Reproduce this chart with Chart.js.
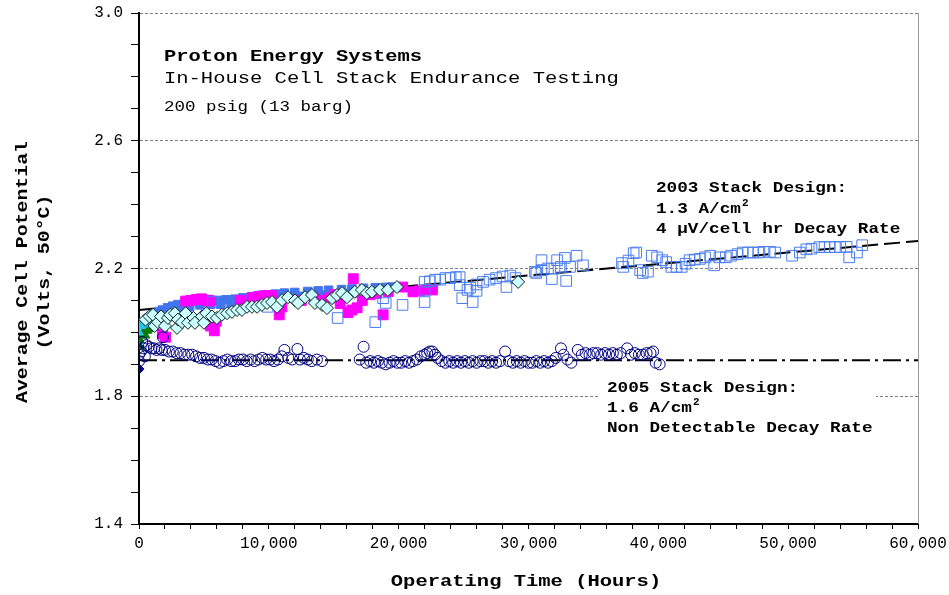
<!DOCTYPE html>
<html>
<head>
<meta charset="utf-8">
<script src="https://cdn.jsdelivr.net/npm/chart.js@4"></script>
<style>
  html, body { margin: 0; padding: 0; background: #fff; }
  canvas { display: block; }
</style>
</head>
<body>
<canvas id="endurance" width="949" height="595"></canvas>
<script>
/* ===== data: [operating hours, volts] ===== */
const stack2005 = [
  [0,1.93],[0,1.91],[150,1.94],[250,1.97],[350,1.95],[450,1.925],[550,1.96],[750,1.955],[950,1.95],
  [1150,1.95],[1350,1.945],[1550,1.95],[1750,1.945],[1850,1.985],[2000,1.945],[2300,1.94],[2600,1.94],
  [2900,1.935],[3200,1.935],[3500,1.93],[3800,1.93],[4100,1.93],[4400,1.925],[4700,1.92],[5000,1.92],
  [5300,1.915],[5600,1.915],[5900,1.91],[6200,1.905],[6500,1.91],[6800,1.915],[7100,1.91],[7400,1.91],
  [7700,1.915],[8000,1.915],[8300,1.91],[8600,1.915],[8900,1.91],[9200,1.915],[9500,1.92],[9800,1.915],
  [10100,1.915],[10400,1.91],[10700,1.915],[11000,1.925],[11200,1.945],[11500,1.92],[11800,1.915],
  [12200,1.948],[12400,1.915],[12700,1.92],[13000,1.915],[13300,1.91],[13700,1.915],[14100,1.91],
  [17000,1.915],[17300,1.955],[17500,1.905],[17800,1.91],[18100,1.905],[18400,1.91],[18700,1.905],
  [19000,1.9],[19300,1.905],[19600,1.91],[19900,1.905],[20200,1.905],[20500,1.91],[20800,1.905],
  [21100,1.91],[21400,1.915],[21700,1.925],[22000,1.93],[22200,1.935],[22400,1.94],[22600,1.94],
  [22800,1.93],[23000,1.92],[23300,1.91],[23600,1.905],[23900,1.91],[24200,1.905],[24500,1.91],
  [24800,1.905],[25100,1.91],[25400,1.905],[25700,1.91],[26000,1.905],[26300,1.91],[26600,1.91],
  [26900,1.905],[27200,1.91],[27500,1.905],[27800,1.91],[28200,1.94],[28500,1.91],[28800,1.905],
  [29100,1.91],[29400,1.905],[29700,1.91],[30000,1.905],[30300,1.905],[30600,1.91],[30900,1.905],
  [31200,1.91],[31500,1.905],[31800,1.91],[32100,1.92],[32500,1.95],[32700,1.93],[33000,1.915],
  [33300,1.905],[33800,1.945],[34100,1.93],[34400,1.935],[34700,1.93],[35000,1.935],[35300,1.935],
  [35600,1.93],[35900,1.935],[36200,1.93],[36500,1.935],[36800,1.93],[37100,1.935],[37600,1.95],
  [37900,1.93],[38200,1.935],[38500,1.93],[38800,1.93],[39100,1.935],[39400,1.935],[39600,1.94],
  [39800,1.905],[40100,1.9]
];

const stack2003 = [
  [5700,2.095],[9900,2.08],[15300,2.045],[18200,2.032],[18800,2.107],[19000,2.092],[20300,2.086],
  [22000,2.158],[22000,2.095],[22000,2.133],[22400,2.16],[22800,2.165],[23200,2.165],[23600,2.17],
  [24000,2.17],[24400,2.173],[24700,2.173],[24700,2.148],[24900,2.107],[25300,2.133],[25500,2.14],
  [25700,2.095],[26000,2.13],[26000,2.15],[26500,2.158],[27000,2.165],[27500,2.17],[28000,2.175],
  [28300,2.142],[28600,2.178],[29000,2.17],[30500,2.19],[30600,2.186],[31000,2.195],[31000,2.226],
  [31500,2.2],[31800,2.167],[32000,2.2],[32200,2.226],[32500,2.205],[32800,2.233],[32900,2.161],
  [33200,2.205],[33700,2.24],[34200,2.21],[37200,2.217],[37300,2.205],[37700,2.225],[38100,2.248],
  [38300,2.25],[38600,2.195],[38800,2.186],[39200,2.19],[39500,2.24],[39900,2.235],[40300,2.226],
  [40600,2.22],[41000,2.205],[41400,2.205],[41800,2.205],[42100,2.215],[42400,2.226],[42800,2.228],
  [43200,2.23],[43600,2.235],[44000,2.24],[44300,2.21],[44700,2.235],[45200,2.235],[45600,2.24],
  [46100,2.245],[46500,2.25],[46900,2.25],[47300,2.25],[47700,2.25],[48100,2.252],[48600,2.252],
  [49000,2.25],[50300,2.24],[50900,2.25],[51400,2.26],[51800,2.262],[52400,2.267],[52800,2.267],
  [53200,2.267],[53600,2.267],[54000,2.267],[54500,2.268],[54700,2.235],[55300,2.25],[55700,2.273]
];

const stack2003Early = [
  [300,2.03],[600,2.04],[900,2.05],[1200,2.058],[1500,2.064],[1800,2.07],[2200,2.077],[2600,2.082],
  [3000,2.087],[3500,2.092],[4000,2.098],[4500,2.102],[4900,2.105],[5400,2.103],[6100,2.1],[6700,2.102],
  [7400,2.104],[8000,2.108],[8700,2.112],[9400,2.116],[10000,2.118],[10500,2.12],[11200,2.123],
  [12000,2.125],[13000,2.128],[13800,2.13],[14600,2.132],[15600,2.134],[16400,2.136],[17300,2.138],
  [18200,2.14],[19000,2.141],[19500,2.142],
  [700,2.03],[1500,2.048],[2300,2.06],[3100,2.07],[3900,2.08],[4700,2.086],[5500,2.088],[6300,2.088],
  [7100,2.09],[7900,2.094],[8700,2.098],[9500,2.102],[10300,2.106],[11100,2.108],[11900,2.11],[12700,2.113],
  [13500,2.115],[14300,2.117],[15100,2.12],[15900,2.122],[16700,2.124],[17500,2.126],[18300,2.128],
  [19100,2.13]
];

const stackMagenta = [
  [1800,1.995],[2050,1.985],[3600,2.098],[4000,2.1],[4400,2.103],[4800,2.105],[5200,2.1],[5500,2.098],
  [5200,2.035],[5500,2.02],[5800,2.005],[5950,2.035],[7800,2.1],[8700,2.108],
  [9200,2.112],[9700,2.115],[10200,2.115],[10800,2.055],[11000,2.08],[12500,2.1],[13500,2.105],
  [14100,2.1],[14700,2.108],[15100,2.118],[15500,2.09],[16100,2.062],[16400,2.07],[16500,2.168],
  [16800,2.077],[17200,2.1],[17800,2.118],[18300,2.122],[18800,2.055],[19200,2.128],[20300,2.142],
  [21100,2.127],[21600,2.13],[22200,2.133],[22600,2.133]
];

const stackDiamond = [
  [500,2.04],[800,2.05],[1080,2.055],[1200,2.02],[1460,2.032],[1700,2.05],[2000,2.02],[2230,2.045],
  [2400,2.055],[2770,2.06],[2930,2.014],[3000,2.04],[3310,2.032],[3600,2.06],[3770,2.03],[4200,2.045],
  [4310,2.03],[4850,2.05],[5000,2.03],[5200,2.06],[5620,2.05],[6000,2.045],[6390,2.055],[6780,2.06],
  [7160,2.064],[7550,2.07],[7930,2.07],[8320,2.08],[8700,2.08],[9090,2.08],[9470,2.086],[9860,2.092],
  [10250,2.095],[10630,2.08],[11020,2.101],[11480,2.11],[12020,2.1],[12250,2.092],[12790,2.11],
  [13320,2.117],[13550,2.092],[14100,2.086],[14480,2.076],[14870,2.107],[15250,2.117],[15640,2.123],
  [16020,2.11],[16630,2.127],[17170,2.133],[17550,2.123],[17940,2.127],[18560,2.133],[19170,2.133],
  [19870,2.142],[29200,2.158]
];

const stackCyan = [[0,2.0],[100,2.02],[250,2.025],[400,2.03],[600,2.03],[800,2.025],[1000,2.035]];
const stackGreen = [[0,1.96],[80,1.975],[150,1.99],[250,1.995],[350,2.0],[500,1.99],[650,2.005],[800,2.01],[100,1.955]];
const stackNavy = [[0,1.885]];

const trend2003 = [[0,2.07],[60000,2.286]];
const trend2005 = [[0,1.913],[60000,1.913]];

const yLabels = [1.4, 1.8, 2.2, 2.6, 3.0];
const xLabels = [0, 10000, 20000, 30000, 40000, 50000, 60000];


/* ===== helpers ===== */
const FONT = "'Liberation Mono', 'Courier New', monospace";
const pts = arr => arr.map(p => ({x: p[0], y: p[1]}));
const isYLabel = v => yLabels.some(l => Math.abs(l - v) < 1e-6);

// draws text stretched horizontally by sx (the original uses a wide Courier)
function txt(ctx, s, x, y, size, bold, sx){
  ctx.font = (bold ? "bold " : "") + size + "px " + FONT;
  const w = ctx.measureText(s).width;
  ctx.save();
  ctx.translate(x, y);
  ctx.scale(sx, 1);
  ctx.fillText(s, 0, 0);
  ctx.restore();
  return w * sx;
}


/* ===== texts drawn on top ===== */
const textPlugin = {
  id: "textos",
  afterDraw(chart){
    const ctx = chart.ctx;
    ctx.save();
    ctx.fillStyle = "#000";
    ctx.textBaseline = "alphabetic";
    ctx.textAlign = "left";

    // right frame
    ctx.strokeStyle = "#9a9a9a";
    ctx.lineWidth = 1;
    ctx.beginPath();
    ctx.moveTo(chart.chartArea.right + 0.5, chart.chartArea.top);
    ctx.lineTo(chart.chartArea.right + 0.5, chart.chartArea.bottom);
    ctx.stroke();

    txt(ctx, "Proton Energy Systems", 164, 61, 16, true, 1.28);
    txt(ctx, "In-House Cell Stack Endurance Testing", 164, 83, 16, false, 1.28);
    txt(ctx, "200 psig (13 barg)", 164, 111, 14, false, 1.25);

    txt(ctx, "2003 Stack Design:", 656, 192, 15, true, 1.18);
    let w = txt(ctx, "1.3 A/cm", 656, 213, 15, true, 1.18);
    txt(ctx, "2", 657 + w, 206, 10, true, 1.1);
    txt(ctx, "4 \u00b5V/cell hr Decay Rate", 656, 233, 15, true, 1.18);

    ctx.fillStyle = "#fff";
    ctx.fillRect(600, 372, 276, 68);
    ctx.fillStyle = "#000";
    txt(ctx, "2005 Stack Design:", 607, 392, 15, true, 1.18);
    w = txt(ctx, "1.6 A/cm", 607, 412, 15, true, 1.18);
    txt(ctx, "2", 608 + w, 405, 10, true, 1.1);
    txt(ctx, "Non Detectable Decay Rate", 607, 432, 15, true, 1.18);

    // axis titles
    ctx.textBaseline = "middle";
    ctx.font = "bold 16px " + FONT;
    let s = "Operating Time (Hours)";
    let tw = ctx.measureText(s).width * 1.28;
    txt(ctx, s, 526 - tw / 2, 582, 16, true, 1.28);

    ctx.translate(23, 272);
    ctx.rotate(-Math.PI / 2);
    ctx.font = "bold 16px " + FONT;
    s = "Average Cell Potential";
    tw = ctx.measureText(s).width * 1.24;
    txt(ctx, s, -tw / 2, 0, 16, true, 1.24);
    ctx.font = "bold 16px " + FONT;
    s = "(Volts, 50\u00b0C)";
    tw = ctx.measureText(s).width * 1.24;
    txt(ctx, s, -tw / 2, 22, 16, true, 1.24);

    ctx.restore();
  }
};


/* ===== chart ===== */
const scatterSet = (data, extra) => Object.assign({
  data: pts(data),
  showLine: false,
  borderWidth: 1
}, extra);

new Chart(document.getElementById("endurance"), {
  type: "scatter",
  data: {
    datasets: [
      scatterSet(stackNavy, {pointStyle: "rectRot", pointRadius: 5, backgroundColor: "#000080", borderColor: "#000080", order: 1}),
      scatterSet(stack2005, {pointStyle: "circle", pointRadius: 5.5, backgroundColor: "rgba(0,0,0,0)", borderColor: "#000080", order: 2}),
      scatterSet(stackDiamond, {pointStyle: "rectRot", pointRadius: 6.5, backgroundColor: "#ccffff", borderColor: "#102020", borderWidth: 1, order: 3}),
      scatterSet(stackCyan, {pointStyle: "triangle", pointRadius: 5, backgroundColor: "#22c4f4", borderColor: "#22c4f4", order: 4}),
      scatterSet(stackGreen, {pointStyle: "triangle", pointRadius: 5, backgroundColor: "#0a7a0a", borderColor: "#0a7a0a", order: 5}),
      scatterSet(stack2003, {pointStyle: "rect", pointRadius: 7.5, backgroundColor: "rgba(0,0,0,0)", borderColor: "#4a7cf0", order: 6}),
      scatterSet(stackMagenta, {pointStyle: "rect", pointRadius: 7, backgroundColor: "#ff00ff", borderColor: "#ff00ff", order: 7}),
      scatterSet(stack2003Early, {pointStyle: "rect", pointRadius: 6, backgroundColor: "#4274ee", borderColor: "#4274ee", order: 8}),
      {
        type: "line", data: pts(trend2003), borderColor: "#000", borderWidth: 2,
        borderDash: [16, 6], pointRadius: 0, fill: false, order: 9
      },
      {
        type: "line", data: pts(trend2005), borderColor: "#000", borderWidth: 2,
        borderDash: [18, 5, 3, 5], pointRadius: 0, fill: false, order: 9
      }
    ]
  },
  options: {
    responsive: false,
    animation: false,
    devicePixelRatio: 1,
    layout: {padding: {top: 13, right: 31, left: 0, bottom: 0}},
    plugins: {legend: {display: false}, tooltip: {enabled: false}},
    scales: {
      x: {
        type: "linear", min: 0, max: 60000,
        afterFit(scale){ scale.height = 71; scale.paddingLeft = 0; scale.paddingRight = 0; },
        border: {color: "#000", width: 2},
        grid: {drawOnChartArea: false, tickLength: 5, tickColor: "#000"},
        ticks: {
          stepSize: 2000, autoSkip: false, maxRotation: 0, minRotation: 0, padding: 5,
          color: "#000", font: {family: FONT, size: 16},
          callback: v => xLabels.includes(v) ? v.toLocaleString("en-US") : ""
        }
      },
      y: {
        type: "linear", min: 1.4, max: 3.0,
        afterFit(scale){ scale.width = 139; scale.paddingTop = 0; scale.paddingBottom = 0; },
        border: {color: "#000", width: 2, dash: [3, 2]},
        grid: {
          tickLength: 8, tickColor: "#000", lineWidth: 1,
          color: c => (c.tick && isYLabel(c.tick.value) && c.tick.value > 1.5) ? "#808080" : "rgba(0,0,0,0)"
        },
        ticks: {
          stepSize: 0.1, autoSkip: false, padding: 8,
          color: "#000", font: {family: FONT, size: 16},
          callback: v => isYLabel(v) ? v.toFixed(1) : ""
        }
      }
    }
  },
  plugins: [textPlugin]
});
</script>
</body>
</html>
